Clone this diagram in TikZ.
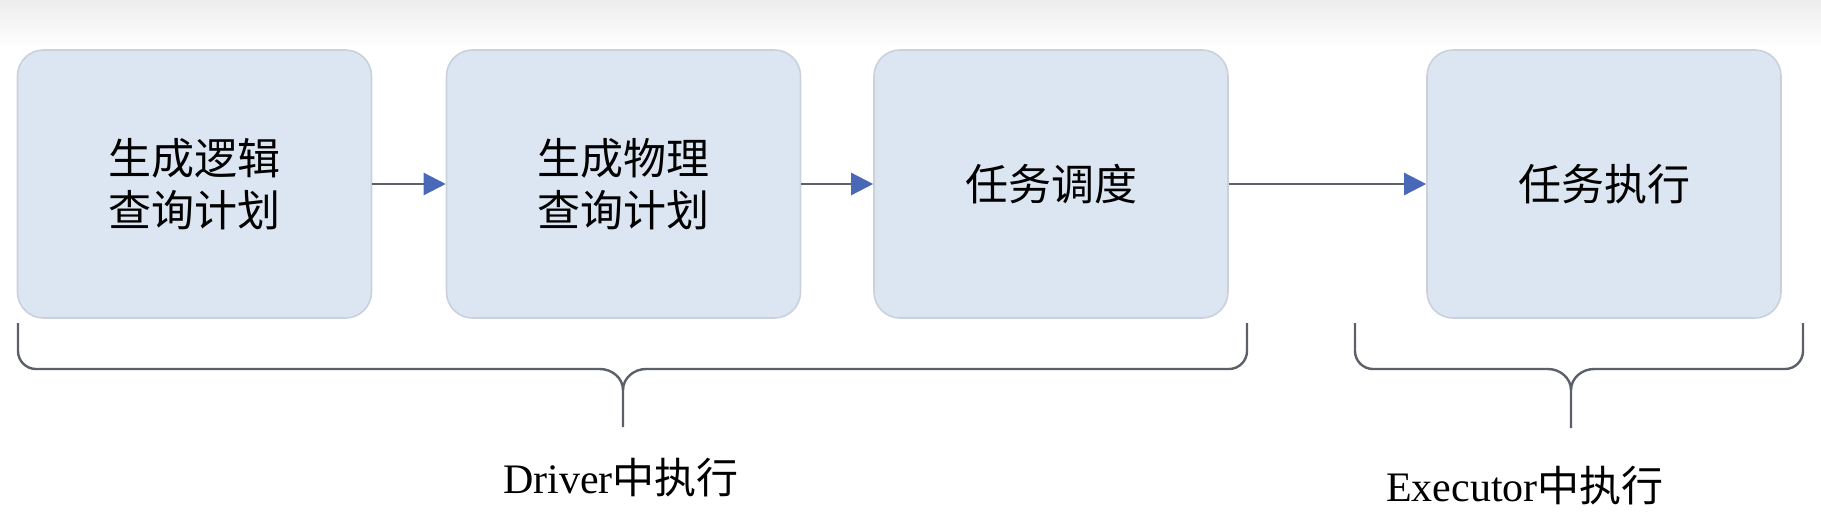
\documentclass[tikz,border=0pt]{standalone}
\usepackage{fontspec}
\setmainfont{Liberation Serif}
\newfontfamily\cjk{Noto Sans CJK SC}
\usetikzlibrary{arrows.meta}
\definecolor{boxfill}{HTML}{DCE6F2}
\definecolor{boxline}{HTML}{C9D1DC}
\definecolor{arrowblue}{HTML}{4A68B8}
\definecolor{lineg}{HTML}{5C6068}
\begin{document}
\begin{tikzpicture}[x=0.5pt,y=-0.5pt,
  stage/.style={draw=boxline,line width=0.8pt,fill=boxfill,rounded corners=13pt,
    minimum width=177pt,minimum height=134pt,inner sep=0pt,align=center,
    font=\cjk\fontsize{21.5pt}{26pt}\selectfont},
  flow/.style={draw=lineg,line width=1.2pt,-{Triangle[length=11pt,width=11pt,fill=arrowblue,color=arrowblue]}},
  bracel/.style={draw=lineg,line width=1.2pt,rounded corners=9pt},
  lbl/.style={inner sep=0pt,font=\fontsize{21pt}{25pt}\selectfont}]
\useasboundingbox (0,0) rectangle (1821,531);
\shade[top color=black!7,bottom color=white] (0,0) rectangle (1821,48);
\node[stage] (a) at (194.5,184) {生成逻辑\\查询计划};
\node[stage] (b) at (623.5,184) {生成物理\\查询计划};
\node[stage] (c) at (1051,184) {任务调度};
\node[stage] (d) at (1604,184) {任务执行};
\draw[flow] (a) -- (b);
\draw[flow] (b) -- (c);
\draw[flow] (c) -- (d);
% Driver brace
\coordinate (dl) at (18,323);
\coordinate (dr) at (1247,323);
\coordinate (dt) at (623,427);
\draw[bracel] (dl) -- (18,369) -- (600,369);
\draw[bracel] (dr) -- (1247,369) -- (646,369);
\draw[lineg,line width=1.2pt] (600,369) .. controls (612,369) and (623,378) .. (623,390) -- (dt);
\draw[lineg,line width=1.2pt] (646,369) .. controls (634,369) and (623,378) .. (623,390);
% Executor brace
\coordinate (el) at (1355,323);
\coordinate (er) at (1803,323);
\coordinate (et) at (1571,428);
\draw[bracel] (el) -- (1355,369) -- (1548,369);
\draw[bracel] (er) -- (1803,369) -- (1594,369);
\draw[lineg,line width=1.2pt] (1548,369) .. controls (1560,369) and (1571,378) .. (1571,390) -- (et);
\draw[lineg,line width=1.2pt] (1594,369) .. controls (1582,369) and (1571,378) .. (1571,390);
\node[lbl] (dlab) at (621,478) {Driver{\cjk 中执行}};
\node[lbl] (elab) at (1525,486) {Executor{\cjk 中执行}};
\end{tikzpicture}
\end{document}
